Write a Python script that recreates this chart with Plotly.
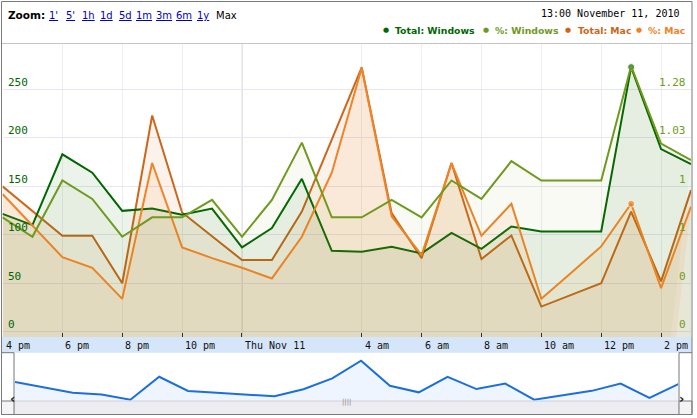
import plotly.graph_objects as go
import pandas as pd

# ---------------- data ----------------
times = list(pd.date_range("2010-11-10 16:00", periods=24, freq="h"))

total_windows = [121.6, 110, 183, 164, 124.7, 127, 120.6, 127, 87, 107, 157.7, 83.5,
                 82.5, 87.6, 80.8, 102, 85.6, 108.6, 103.4, 103.4, 103.4, 272.9, 188.3, 172.9]
pct_windows = [0.62, 0.52, 0.81, 0.715, 0.52, 0.62, 0.62, 0.71, 0.52, 0.71, 1.005, 0.62,
               0.62, 0.71, 0.62, 0.81, 0.715, 0.91, 0.81, 0.81, 0.81, 1.40, 1.0, 0.915]
total_mac = [150, 124, 99, 99, 50, 223, 123, 98.6, 74, 74, 124, 198,
             272.5, 122.3, 76, 174, 75, 99.3, 26, 38, 50, 124, 52, 146]
pct_mac = [0.74, 0.58, 0.415, 0.36, 0.2, 0.9, 0.465, 0.41, 0.36, 0.305, 0.52, 0.85,
           1.39, 0.625, 0.425, 0.9, 0.525, 0.69, 0.2, 0.335, 0.47, 0.69, 0.255, 0.675]

tick_idx = [0, 2, 4, 6, 8, 12, 14, 16, 18, 20, 22]
tick_text = ["4 pm", "6 pm", "8 pm", "10 pm", "Thu Nov 11", "4 am", "6 am", "8 am",
             "10 am", "12 pm", "2 pm"]
left_ticks = [0, 50, 100, 150, 200, 250]
right_ticks = [0.03, 0.28, 0.53, 0.78, 1.03, 1.28]
right_text = ["0", "0", "1", "1", "1.03", "1.28"]
zoom_links = ["1'", "5'", "1h", "1d", "5d", "1m", "3m", "6m", "1y"]
sel = 21

series_names = ["Total: Windows", "%: Windows", "Total: Mac", "%: Mac"]
colors = ["#006600", "#6f9a1d", "#cc6618", "#f08326"]
fills = ["rgba(0,102,0,0.08)", "rgba(110,154,29,0.05)",
         "rgba(204,102,24,0.085)", "rgba(240,131,38,0.085)"]

W, H = 697, 418
def px(x): return x / W
def py(y): return 1 - y / H

ymain = [-5.36, 296.7]
y2main = [0.03 + 0.005 * ymain[0], 0.03 + 0.005 * ymain[1]]

fig = go.Figure()

def add_series(vals, yaxis, name, color, fillc, marker_on=True):
    floor = [-1000] * len(vals)
    fig.add_trace(go.Scatter(x=times, y=floor, yaxis=yaxis, mode="lines",
                             line=dict(width=0), hoverinfo="skip", showlegend=False))
    sizes = [7 if (i == sel and marker_on) else 0 for i in range(len(vals))]
    fig.add_trace(go.Scatter(x=times, y=vals, yaxis=yaxis, name=name,
                             mode="lines+markers", fill="tonexty", fillcolor=fillc,
                             line=dict(color=color, width=2),
                             marker=dict(size=sizes, color=color), showlegend=False))

add_series(total_mac, "y", series_names[2], colors[2], fills[2], marker_on=False)
add_series(total_windows, "y", series_names[0], colors[0], fills[0])
add_series(pct_mac, "y2", series_names[3], colors[3], fills[3])
add_series(pct_windows, "y2", series_names[1], colors[1], fills[1], marker_on=False)

# navigator
fig.add_trace(go.Scatter(x=times, y=pct_mac, xaxis="x2", yaxis="y3", mode="lines",
                         fill="tozeroy", fillcolor="#eef5fe",
                         line=dict(color="#1a6fdc", width=2), showlegend=False,
                         hoverinfo="skip"))

tick_times = [times[i] for i in tick_idx]

fig.update_layout(
    width=W, height=H, margin=dict(l=0, r=0, t=0, b=0),
    paper_bgcolor="white", plot_bgcolor="white", showlegend=False,
    xaxis=dict(domain=[px(2.5), px(691)], range=[times[0], times[-1]],
               tickvals=tick_times, ticks="inside", ticklen=4, tickcolor="#333",
               showticklabels=False, showgrid=True, gridcolor="#efeff2",
               zeroline=False, showline=False, anchor="y", fixedrange=True),
    yaxis=dict(domain=[py(337), py(44)], range=ymain, tickvals=left_ticks,
               showgrid=True, gridcolor="#e6e6f6", showticklabels=False,
               zeroline=False, ticks="", fixedrange=True),
    yaxis2=dict(overlaying="y", side="right", range=y2main, showgrid=False,
                showticklabels=False, zeroline=False, ticks="", fixedrange=True),
    xaxis2=dict(domain=[px(15), px(678.3)], range=[times[0], times[-1]],
                anchor="y3", visible=False, fixedrange=True),
    yaxis3=dict(domain=[py(401), py(352.7)], range=[0.16, 1.635], anchor="x2",
                visible=False, fixedrange=True),
)

shapes = []
shapes.append(dict(type="line", xref="x", yref="paper", x0=times[8], x1=times[8],
                   y0=py(337), y1=py(44), line=dict(color="#c8c8c8", width=1),
                   layer="between"))
shapes.append(dict(type="rect", xref="paper", yref="paper", x0=px(1.5), x1=px(692),
                   y0=py(352.7), y1=py(337), fillcolor="#d5e5fa", line=dict(width=0),
                   layer="below"))
shapes.append(dict(type="line", xref="paper", yref="paper", x0=px(1.5), x1=px(692),
                   y0=py(43.5), y1=py(43.5), line=dict(color="#c4c4c4", width=1)))
shapes.append(dict(type="rect", xref="paper", yref="paper", x0=px(14), x1=px(679),
                   y0=py(414.5), y1=py(401), fillcolor="#ececf1",
                   line=dict(color="#d0d0d8", width=1)))
for x0, x1 in [(1.5, 14), (679, 692)]:
    shapes.append(dict(type="rect", xref="paper", yref="paper", x0=px(x0), x1=px(x1),
                       y0=py(414.5), y1=py(401), fillcolor="#f4f4f6",
                       line=dict(color="#777", width=1)))
shapes.append(dict(type="line", xref="paper", yref="paper", x0=px(14), x1=px(14),
                   y0=py(401), y1=py(352.7), line=dict(color="#777", width=1)))
shapes.append(dict(type="line", xref="paper", yref="paper", x0=px(679), x1=px(679),
                   y0=py(401), y1=py(352.7), line=dict(color="#777", width=1)))
shapes.append(dict(type="line", xref="paper", yref="paper", x0=px(1.5), x1=px(14),
                   y0=py(352.7), y1=py(352.7), line=dict(color="#777", width=1)))
shapes.append(dict(type="line", xref="paper", yref="paper", x0=px(679), x1=px(692),
                   y0=py(352.7), y1=py(352.7), line=dict(color="#777", width=1)))
shapes.append(dict(type="rect", xref="paper", yref="paper", x0=px(1.5), x1=px(692),
                   y0=py(414.5), y1=py(1.5), line=dict(color="#7a7a7a", width=1),
                   fillcolor="rgba(0,0,0,0)"))
fig.update_layout(shapes=shapes)

ann = []
mono = "DejaVu Sans Mono"
sans = "DejaVu Sans"
for t, txt in zip(tick_times, tick_text):
    ann.append(dict(x=t, y=py(345), xref="x", yref="paper", text=txt, showarrow=False,
                    xanchor="left", yanchor="middle", xshift=1,
                    font=dict(family=mono, size=10, color="#111")))
for v in left_ticks:
    ann.append(dict(x=px(6), y=v, xref="paper", yref="y", text=str(v), showarrow=False,
                    xanchor="left", yanchor="middle", yshift=7,
                    font=dict(family=mono, size=11, color=colors[0])))
for v, txt in zip(right_ticks, right_text):
    ann.append(dict(x=px(688), y=v, xref="paper", yref="y2", text=txt, showarrow=False,
                    xanchor="right", yanchor="middle", yshift=7,
                    font=dict(family=mono, size=11, color=colors[1])))
ann.append(dict(x=px(6), y=py(15), xref="paper", yref="paper", text="<b>Zoom:</b>",
                showarrow=False, xanchor="left", yanchor="middle",
                font=dict(family=sans, size=10.5, color="#000")))
link_x = [46.5, 64, 80, 98, 117, 134, 154, 174, 195]
for lx, lt in zip(link_x, zoom_links):
    ann.append(dict(x=px(lx), y=py(15), xref="paper", yref="paper", text="<u>" + lt + "</u>",
                    showarrow=False, xanchor="left", yanchor="middle",
                    font=dict(family=sans, size=10, color="#0000cc")))
ann.append(dict(x=px(214), y=py(15), xref="paper", yref="paper", text="Max",
                showarrow=False, xanchor="left", yanchor="middle",
                font=dict(family=sans, size=10, color="#000")))
ann.append(dict(x=px(681), y=py(14), xref="paper", yref="paper",
                text=times[sel].strftime("%H:%M %B %d, %Y"), showarrow=False,
                xanchor="right", yanchor="middle",
                font=dict(family=mono, size=10, color="#000")))
leg_dot_x = [386, 486, 568, 639]
leg_txt_x = [393, 493, 576, 646]
for dx, tx, nm, c in zip(leg_dot_x, leg_txt_x, series_names, colors):
    ann.append(dict(x=px(dx), y=py(30), xref="paper", yref="paper", text="●",
                    showarrow=False, xanchor="center", yanchor="middle",
                    font=dict(family=sans, size=7, color=c)))
    ann.append(dict(x=px(tx), y=py(30), xref="paper", yref="paper", text="<b>" + nm + "</b>",
                    showarrow=False, xanchor="left", yanchor="middle",
                    font=dict(family=sans, size=9.3, color=c)))
ann.append(dict(x=px(7.8), y=py(407.8), xref="paper", yref="paper", text="<b>‹</b>",
                showarrow=False, font=dict(family=sans, size=13, color="#222")))
ann.append(dict(x=px(685.5), y=py(407.8), xref="paper", yref="paper", text="<b>›</b>",
                showarrow=False, font=dict(family=sans, size=13, color="#222")))
ann.append(dict(x=px(346.5), y=py(408), xref="paper", yref="paper", text="||||",
                showarrow=False, font=dict(family=sans, size=7, color="#888")))
fig.update_layout(annotations=ann)

fig.write_html("out.html", config={"displayModeBar": False},
               post_script="document.body.style.margin='0';document.body.style.overflow='hidden';")
